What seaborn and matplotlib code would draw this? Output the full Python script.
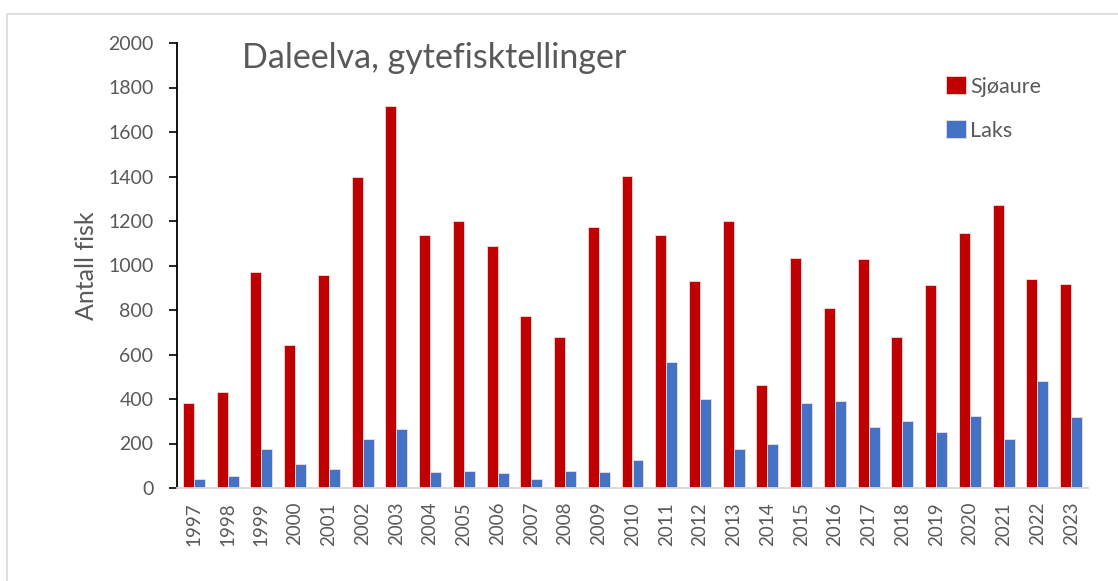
import matplotlib
matplotlib.use("Agg")
import matplotlib.pyplot as plt
import seaborn as sns
import pandas as pd
from matplotlib.patches import Rectangle

years = [str(y) for y in range(1997, 2024)]
sjoaure = [380, 430, 970, 642, 957, 1400, 1716, 1139, 1201, 1089, 771, 680, 1172, 1401,
           1139, 929, 1199, 464, 1032, 807, 1028, 680, 912, 1146, 1270, 940, 919]
laks = [42, 52, 174, 110, 87, 219, 267, 73, 78, 66, 42, 75, 71, 126,
        566, 400, 174, 197, 383, 390, 273, 302, 253, 325, 219, 483, 318]
series_names = ["Sjøaure", "Laks"]
title = "Daleelva, gytefisktellinger"
ylabel = "Antall fisk"

df = pd.DataFrame({
    "År": years * 2,
    "Antall": sjoaure + laks,
    "Art": [series_names[0]] * len(years) + [series_names[1]] * len(years),
})

sns.set_theme(style="white")
plt.rcParams["font.family"] = ["Lato", "DejaVu Sans"]
grey = "#595959"

fig = plt.figure(figsize=(11.18, 5.81), dpi=100)
ax = fig.add_axes([177 / 1118, 1 - 488 / 581, (1088 - 177) / 1118, (488 - 43) / 581])

sns.barplot(data=df, x="År", y="Antall", hue="Art",
            palette={"Sjøaure": "#C00000", "Laks": "#4472C4"},
            width=0.65, gap=0, saturation=1, ax=ax,
            edgecolor="#F2DCDB", linewidth=0.6)

ax.set_ylim(0, 2000)
ax.set_yticks(range(0, 2001, 200))
ax.set_xlim(-0.5, len(years) - 0.5)
ax.set_xlabel("")
ax.set_ylabel(ylabel, fontsize=18, color=grey, labelpad=7)
ax.tick_params(axis="y", colors="black", labelcolor=grey, labelsize=14,
               length=6, width=1.2, direction="out", left=True, pad=11)
ax.tick_params(axis="x", labelcolor=grey, labelsize=13.5, length=0, pad=10,
               labelrotation=90)
for s in ["top", "right"]:
    ax.spines[s].set_visible(False)
ax.spines["left"].set_color("black")
ax.spines["left"].set_linewidth(1.3)
ax.spines["bottom"].set_color("#D9D9D9")
ax.spines["bottom"].set_linewidth(1.3)

ax.text(242 / 1118, 1 - 58 / 581, title, transform=fig.transFigure,
        fontsize=24.5, color=grey, va="center", ha="left")

leg = ax.legend(loc="upper left", bbox_to_anchor=(927 / 1118, 1 - 57 / 581),
                bbox_transform=fig.transFigure, frameon=False, fontsize=15.5,
                handlelength=0.9, handleheight=0.9, handletextpad=0.2,
                labelspacing=1.1, labelcolor=grey)

fig.patches.append(Rectangle((7 / 1118, -0.05), 1.1, 1 - 14 / 581 + 0.05,
                             transform=fig.transFigure, fill=False,
                             edgecolor="#D9D9D9", linewidth=1.2))

fig.savefig("out.png", dpi=100)
